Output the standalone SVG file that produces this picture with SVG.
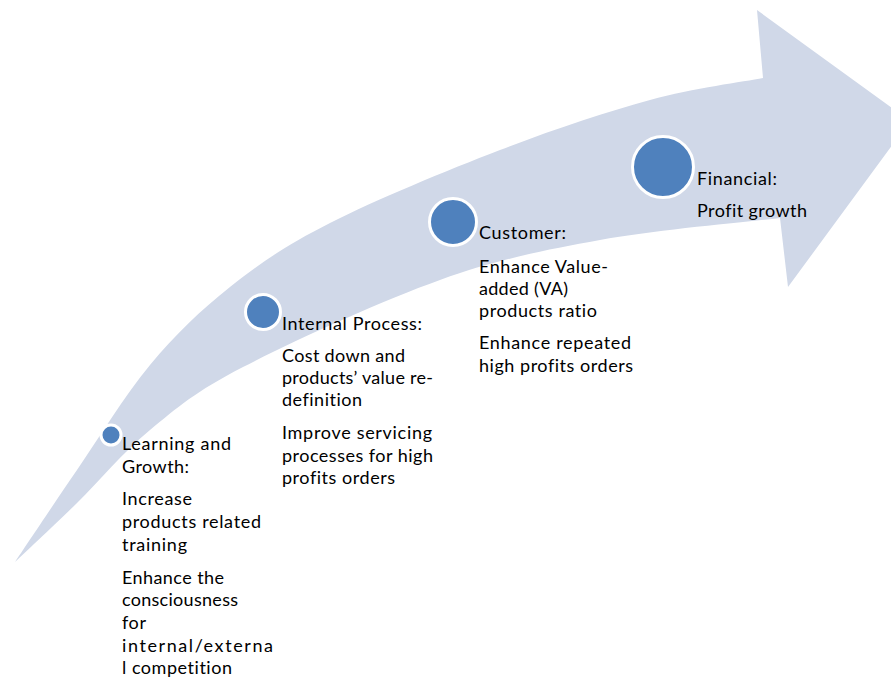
<svg xmlns="http://www.w3.org/2000/svg" width="891" height="679" viewBox="0 0 891 679">
<style>
.band{fill:#D0D8E8;stroke:none}
.dot{fill:#4F81BD;stroke:#FFFFFF;stroke-width:3}
.t{font-family:Lato,"Open Sans","Liberation Sans",sans-serif;font-size:18px;fill:#000000;font-variant-ligatures:none;font-feature-settings:"liga" 0,"clig" 0}
</style>
<rect width="891" height="679" fill="#FFFFFF"/>
<g id="connectors">
<path id="arrow" class="band" d="M15,562 C25.3,546.7 54.5,502.8 77,470 C99.5,437.2 124.5,395.5 150,365 C175.5,334.5 200,310.7 230,287 C260,263.3 285,245.8 330,223 C375,200.2 446.7,170.5 500,150 C553.3,129.5 606.2,112 650,100 C693.8,88 744.2,81.7 763,78 L757,10 L910,121 L788,287 L780,218 C750,221.7 656.7,229.7 600,240 C543.3,250.3 499.5,258.8 440,280 C380.5,301.2 291.3,342 243,367 C194.7,392 177.7,407.3 150,430 C122.3,452.7 99.5,481 77,503 C54.5,525 25.3,552.2 15,562 Z"/>
</g>
<g id="node-learning">
<circle class="dot" cx="111" cy="435" r="10"/>
<text class="t" x="122" y="450" textLength="109" lengthAdjust="spacing">Learning and</text>
<text class="t" x="122" y="473" textLength="67" lengthAdjust="spacing">Growth:</text>
<text class="t" x="122" y="505" textLength="70" lengthAdjust="spacing">Increase</text>
<text class="t" x="122" y="528" textLength="139" lengthAdjust="spacing">products related</text>
<text class="t" x="122" y="551" textLength="65" lengthAdjust="spacing">training</text>
<text class="t" x="122" y="584" textLength="102" lengthAdjust="spacing">Enhance the</text>
<text class="t" x="122" y="606" textLength="116" lengthAdjust="spacing">consciousness</text>
<text class="t" x="122" y="629" textLength="24" lengthAdjust="spacing">for</text>
<text class="t" x="122" y="652" textLength="151" lengthAdjust="spacing">internal/externa</text>
<text class="t" x="122" y="674" textLength="110" lengthAdjust="spacing">l competition</text>
</g>
<g id="node-internal">
<circle class="dot" cx="263" cy="312" r="17.5"/>
<text class="t" x="282" y="330" textLength="140" lengthAdjust="spacing">Internal Process:</text>
<text class="t" x="282" y="362" textLength="123" lengthAdjust="spacing">Cost down and</text>
<text class="t" x="282" y="384" textLength="151" lengthAdjust="spacing">products’ value re-</text>
<text class="t" x="282" y="406" textLength="80" lengthAdjust="spacing">definition</text>
<text class="t" x="282" y="439" textLength="150" lengthAdjust="spacing">Improve servicing</text>
<text class="t" x="282" y="462" textLength="151" lengthAdjust="spacing">processes for high</text>
<text class="t" x="282" y="484" textLength="113" lengthAdjust="spacing">profits orders</text>
</g>
<g id="node-customer">
<circle class="dot" cx="453" cy="222" r="23.5"/>
<text class="t" x="479" y="239" textLength="87" lengthAdjust="spacing">Customer:</text>
<text class="t" x="479" y="273" textLength="129" lengthAdjust="spacing">Enhance Value-</text>
<text class="t" x="479" y="295" textLength="89" lengthAdjust="spacing">added (VA)</text>
<text class="t" x="479" y="317" textLength="118" lengthAdjust="spacing">products ratio</text>
<text class="t" x="479" y="349" textLength="152" lengthAdjust="spacing">Enhance repeated</text>
<text class="t" x="479" y="372" textLength="154" lengthAdjust="spacing">high profits orders</text>
</g>
<g id="node-financial">
<circle class="dot" cx="663" cy="167" r="30.5"/>
<text class="t" x="697" y="185" textLength="80" lengthAdjust="spacing">Financial:</text>
<text class="t" x="697" y="217" textLength="110" lengthAdjust="spacing">Profit growth</text>
</g>
</svg>
